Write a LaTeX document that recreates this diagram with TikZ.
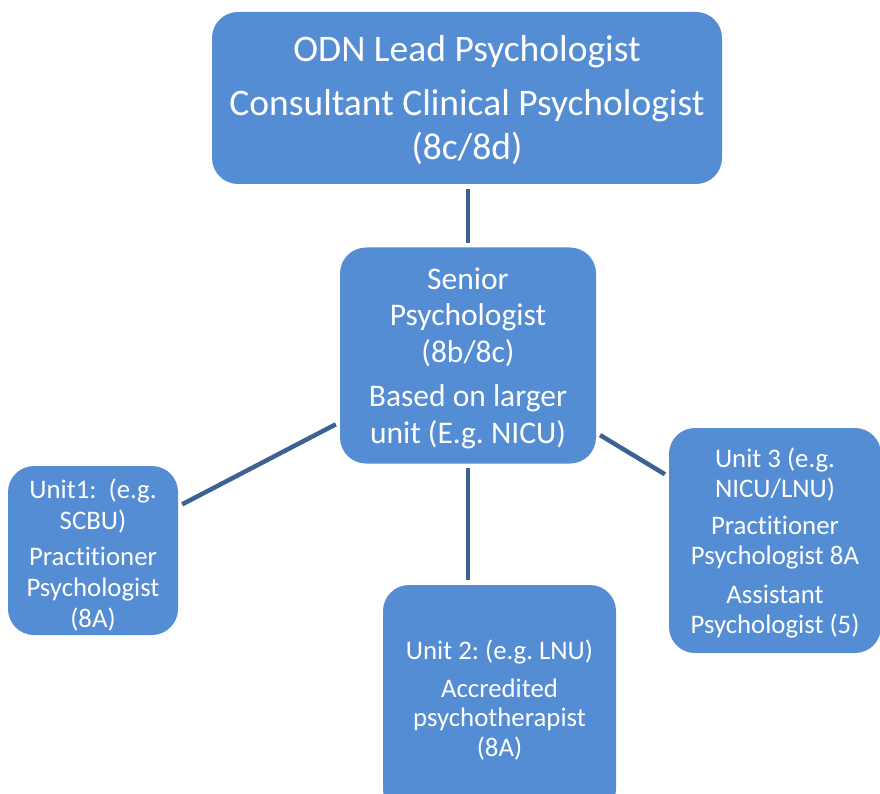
\documentclass[tikz,border=0pt]{standalone}
\usepackage{fontspec}
\setmainfont{Carlito}[Ligatures=NoCommon]
\frenchspacing
\definecolor{boxblue}{RGB}{84,141,212}
\definecolor{linkblue}{RGB}{60,98,148}
\begin{document}
\begin{tikzpicture}[x=1pt,y=-1pt,
  box/.style={fill=boxblue,draw=none,rounded corners=26pt,text=white,align=center,inner sep=0pt},
  link/.style={draw=linkblue,line width=4.5pt,shorten >=4.5pt,shorten <=4.5pt}]
\useasboundingbox (0,0) rectangle (880,794);
\begin{scope}
\clip (0,0) rectangle (880,794);
\node[box,minimum width=510pt,minimum height=172pt,font=\fontsize{37.5}{44}\selectfont] (top) at (467,98)
  {\rule{0pt}{30pt}ODN Lead Psychologist\\[10pt]Consultant Clinical Psychologist\\(8c/8d)};
\node[box,minimum width=256pt,minimum height=216pt,font=\fontsize{31.5}{36.5}\selectfont] (senior) at (468,355.5)
  {\rule{0pt}{27pt}Senior\\Psychologist\\(8b/8c)\\[8pt]Based on larger\\unit (E.g. NICU)};
\node[box,minimum width=170pt,minimum height=169pt,font=\fontsize{26.8}{31}\selectfont] (u1) at (93,550.5)
  {\rule{0pt}{29pt}Unit1:\ \ (e.g.\\SCBU)\\[5pt]Practitioner\\Psychologist\\(8A)};
\node[box,minimum width=233pt,minimum height=230pt,font=\fontsize{26.8}{29.5}\selectfont] (u2) at (499.5,700)
  {Unit 2: (e.g. LNU)\\[8pt]Accredited\\psychotherapist\\(8A)};
\node[box,minimum width=212pt,minimum height=225pt,font=\fontsize{26.8}{30}\selectfont] (u3) at (775,540.5)
  {\rule{0pt}{24pt}Unit 3 (e.g.\\NICU/LNU)\\[7pt]Practitioner\\Psychologist 8A\\[9pt]Assistant\\Psychologist (5)};
\end{scope}
\draw[link] (top.south -| senior.north) -- (senior.north);
\draw[link] (senior) -- (u1);
\draw[link] (senior.south) -- (senior.south |- u2.north);
\draw[link] (senior) -- (u3);
\end{tikzpicture}
\end{document}
